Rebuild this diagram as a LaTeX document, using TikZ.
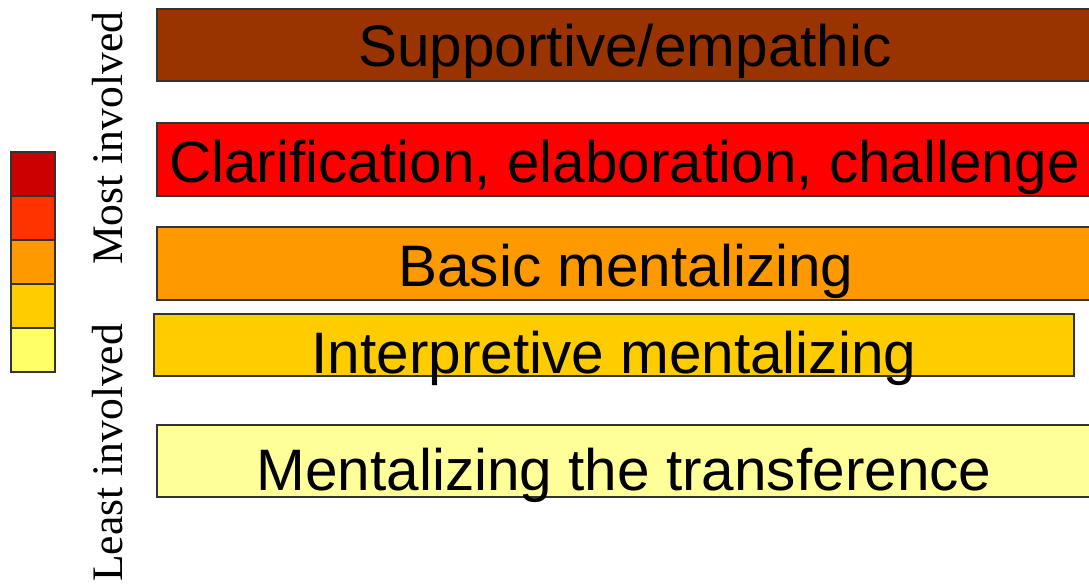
\documentclass[tikz,border=0pt]{standalone}
\usepackage{fontspec}
\setmainfont{Liberation Serif}
\newfontfamily\barfont{Liberation Sans}
\usepackage{tikz}
\usetikzlibrary{positioning}

\definecolor{supcol}{HTML}{993300}
\definecolor{clarcol}{HTML}{FF0000}
\definecolor{basiccol}{HTML}{FF9900}
\definecolor{interpcol}{HTML}{FFCC00}
\definecolor{transfcol}{HTML}{FFFF99}
\definecolor{legA}{HTML}{CC0000}
\definecolor{legB}{HTML}{FF3300}
\definecolor{legC}{HTML}{FF9900}
\definecolor{legD}{HTML}{FFCC00}
\definecolor{legE}{HTML}{FFFF66}

\begin{document}
\begin{tikzpicture}[
    x=1pt, y=-1pt,
    band/.style={rectangle, draw=black!80, line width=1.2pt, inner sep=0pt, minimum width=936pt, minimum height=72pt},
    bartext/.style={anchor=base, inner sep=0pt, font=\barfont\fontsize{58.5}{60}\selectfont},
    sidetext/.style={rotate=90, anchor=base west, inner sep=0pt, font=\fontsize{43.6}{45}\selectfont},
    legbox/.style={rectangle, draw=black!80, line width=1.2pt, inner sep=0pt, minimum width=44pt, minimum height=44pt}
]
\useasboundingbox (0,0) rectangle (1089,584);

% bands
\node[band, fill=supcol] (sup) at (625,45) {};
\node[band, fill=clarcol, minimum height=73pt] (clar) at (625,159.5) {};
\node[band, fill=basiccol, minimum height=73pt] (basic) at (625,263.5) {};
\node[band, fill=interpcol, minimum width=920pt, minimum height=62pt] (interp) at (614,345) {};
\node[band, fill=transfcol] (transf) at (625,461) {};

\node[bartext] (suptext) at (625,66) {Supportive/empathic};
\node[bartext] (clartext) at (624.5,182) {Clarification, elaboration, challenge};
\node[bartext] (basictext) at (626,286) {Basic mentalizing};
\node[bartext] (interptext) at (614,373) {Interpretive mentalizing};
\node[bartext] (transftext) at (624,490) {Mentalizing the transference};

% scale
\foreach \i/\col in {0/legA,1/legB,2/legC,3/legD,4/legE}
    \node[legbox, fill=\col] (leg\i) at (33,174+44*\i) {};

\node[sidetext] (most) at (122,265) {Most involved};
\node[sidetext] (least) at (122,582) {Least involved};

\end{tikzpicture}
\end{document}
